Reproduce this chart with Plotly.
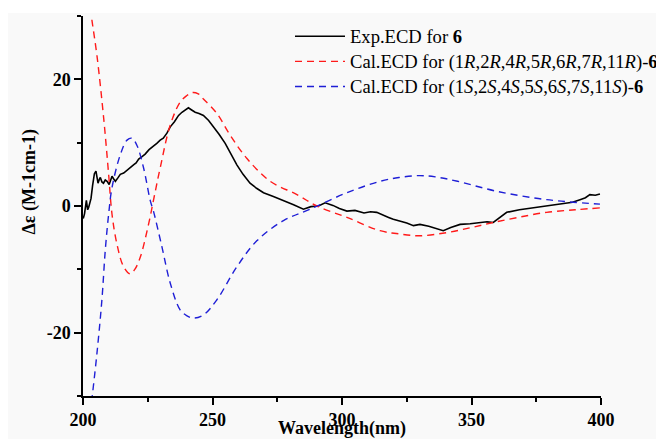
import plotly.graph_objects as go

# experimental ECD of 6
exp_wl = [200.1, 200.6, 201.3, 201.8, 202.2, 202.7, 203.1, 203.7, 204.4, 205.0, 205.4, 205.8, 206.3, 206.7,
          207.3, 207.9, 208.6, 209.3, 210.1, 210.7, 211.2, 211.8, 212.5, 213.4, 214.4, 215.7, 217.0, 218.2,
          219.5, 220.5, 221.5, 222.8, 224.0, 225.5, 227.2, 228.5, 229.8, 231.0, 232.4, 233.7, 235.3, 236.9,
          238.2, 239.5, 240.7, 241.8, 243.3, 244.8, 246.5, 248.5, 250.4, 252.6, 254.9, 257.2, 259.4, 261.8,
          264.5, 267.0, 269.7, 273.5, 277.4, 281.3, 285.1, 288.0, 290.9, 293.5, 296.5, 299.0, 301.9, 305.0,
          308.5, 311.0, 313.4, 316.0, 318.0, 319.8, 322.5, 325.0, 327.6, 330.1, 333.5, 336.6, 339.1, 342.0,
          345.6, 349.5, 353.3, 356.0, 358.4, 361.0, 363.6, 368.5, 373.8, 379.5, 385.4, 389.0, 391.9, 394.0,
          395.7, 397.8, 399.6]
exp_cd = [-2.0, -1.2, 0.9, -0.6, -0.2, 0.6, 1.2, 3.2, 5.1, 5.5, 4.8, 3.6, 4.2, 4.5,
          3.8, 3.6, 4.1, 3.9, 3.4, 4.0, 4.7, 4.3, 3.9, 4.4, 5.0, 5.2, 5.7, 6.0,
          6.5, 6.8, 7.4, 7.8, 8.2, 8.9, 9.4, 9.9, 10.4, 10.7, 11.5, 12.5, 13.3, 14.3,
          14.8, 15.2, 15.5, 15.2, 14.8, 14.6, 14.3, 13.5, 12.5, 11.3, 9.9, 8.2, 6.5, 5.0,
          3.6, 2.8, 2.1, 1.5, 0.9, 0.2, -0.5, -0.1, 0.0, 0.5, 0.1, -0.4, -0.8, -0.7,
          -1.1, -0.9, -1.0, -1.5, -1.8, -2.1, -2.4, -2.7, -3.1, -2.9, -3.2, -3.6, -3.9, -3.4,
          -2.9, -2.8, -2.6, -2.5, -2.6, -1.8, -1.0, -0.6, -0.3, 0.0, 0.3, 0.6, 1.0, 1.3,
          1.8, 1.7, 1.9]

# calculated ECD, R configuration
red_wl = [202.8, 203.5, 205.4, 208.0, 209.9, 211.2, 213.1, 215.7, 218.2, 220.0, 222.1, 225.3, 227.5,
          229.8, 233.7, 237.5, 240.0, 242.1, 244.5, 246.5, 251.7, 256.8, 263.3, 272.3, 282.6, 290.3,
          301.9, 314.7, 322.0, 330.1, 340.4, 350.0, 358.4, 368.0, 379.0, 390.0, 399.6]
red_cd = [31.3, 29.2, 23.7, 13.8, 5.0, -1.3, -6.0, -9.6, -10.7, -10.0, -8.1, -2.9, 1.5,
          6.0, 12.8, 16.4, 17.4, 17.9, 17.7, 16.9, 14.6, 11.2, 7.5, 3.9, 1.8, 0.0,
          -1.8, -3.9, -4.4, -4.7, -4.2, -3.4, -2.6, -1.8, -1.0, -0.6, -0.3]

# calculated ECD, S configuration
blue_wl = [203.3, 205.4, 207.3, 208.6, 209.9, 211.2, 214.4, 217.0, 218.9, 220.8, 223.4, 226.0, 227.2,
           230.5, 233.7, 237.5, 240.0, 242.7, 246.5, 251.7, 259.4, 267.1, 277.4, 287.7, 301.9, 314.7,
           322.0, 329.8, 336.0, 344.6, 360.0, 379.0, 399.6]
blue_cd = [-31.0, -23.2, -14.8, -7.0, -1.3, 2.9, 8.1, 10.4, 10.7, 9.6, 6.0, 0.8, -0.8,
           -6.5, -12.2, -16.4, -17.3, -17.7, -17.2, -14.8, -9.6, -5.5, -2.3, -0.5, 2.1, 3.9,
           4.5, 4.8, 4.6, 3.9, 2.3, 1.0, 0.3]

y_ticks = [-20, 0, 20]
y_labels = ["-20", "0", "20"]

names = ["Exp.ECD for <b>6</b>",
         "Cal.ECD for (1<i>R</i>,2<i>R</i>,4<i>R</i>,5<i>R</i>,6<i>R</i>,7<i>R</i>,11<i>R</i>)-<b>6</b>",
         "Cal.ECD for (1<i>S</i>,2<i>S</i>,4<i>S</i>,5<i>S</i>,6<i>S</i>,7<i>S</i>,11<i>S</i>)-<b>6</b>"]

serif = "Liberation Serif"
bg = "#f9f9f9"

fig = go.Figure()
fig.add_trace(go.Scatter(x=exp_wl, y=exp_cd, mode="lines",
                         name='<span style="font-size:18.6px">' + names[0] + '</span>',
                         line=dict(color="black", width=1.6)))
fig.add_trace(go.Scatter(x=red_wl, y=red_cd, mode="lines",
                         name='<span style="font-size:18.6px">' + names[1] + '</span>',
                         line=dict(color="#ff1a1a", width=1.4, dash="7px,5px", shape="spline")))
fig.add_trace(go.Scatter(x=blue_wl, y=blue_cd, mode="lines",
                         name='<span style="font-size:18.6px">' + names[2] + '</span>',
                         line=dict(color="#1f1fd6", width=1.4, dash="7px,5px", shape="spline")))

axis_common = dict(showline=True, linecolor="black", linewidth=1.5, ticks="outside",
                   tickcolor="black", tickwidth=1.5, ticklen=7, showgrid=False, zeroline=False,
                   tickfont=dict(family=serif, size=18, color="black", weight="bold"))

fig.update_xaxes(range=[200, 400], dtick=50, tick0=200,
                 minor=dict(dtick=25, ticks="outside", ticklen=4, tickcolor="black", tickwidth=1.5),
                 **axis_common)
fig.update_yaxes(range=[-30, 30], tickmode="array", tickvals=y_ticks, ticktext=y_labels,
                 minor=dict(tickmode="linear", tick0=0, dtick=10, ticks="outside", ticklen=4,
                            tickcolor="black", tickwidth=1.5),
                 **axis_common)

# the page body keeps its default 8px margin, so the figure is a bit smaller than the window
fig.update_layout(
    width=656, height=431,
    margin=dict(l=75, r=63, t=8, b=43, autoexpand=False),
    paper_bgcolor="white",
    plot_bgcolor=bg,
    font=dict(family=serif, color="black"),
    legend=dict(x=0.3996, y=0.9929, xanchor="left", yanchor="top", itemwidth=50,
                bgcolor="rgba(0,0,0,0)", font=dict(family=serif, size=17, color="black")),
    shapes=[dict(type="rect", xref="paper", yref="paper", x0=-0.147, x1=1.2, y0=-0.2, y1=1.0079,
                 fillcolor=bg, line=dict(width=0), layer="below")],
    annotations=[
        dict(text="<b>Δε (M-1cm-1)</b>", xref="paper", yref="paper", x=-0.1023, y=0.5618,
             textangle=-90, showarrow=False, xanchor="center", yanchor="middle",
             font=dict(family=serif, size=18, color="black")),
        dict(text="<b>Wavelength(nm)</b>", xref="paper", yref="paper", x=0.5, y=-0.0868,
             showarrow=False, xanchor="center", yanchor="middle",
             font=dict(family=serif, size=18, color="black")),
    ],
)

fig.write_html("out.html")
